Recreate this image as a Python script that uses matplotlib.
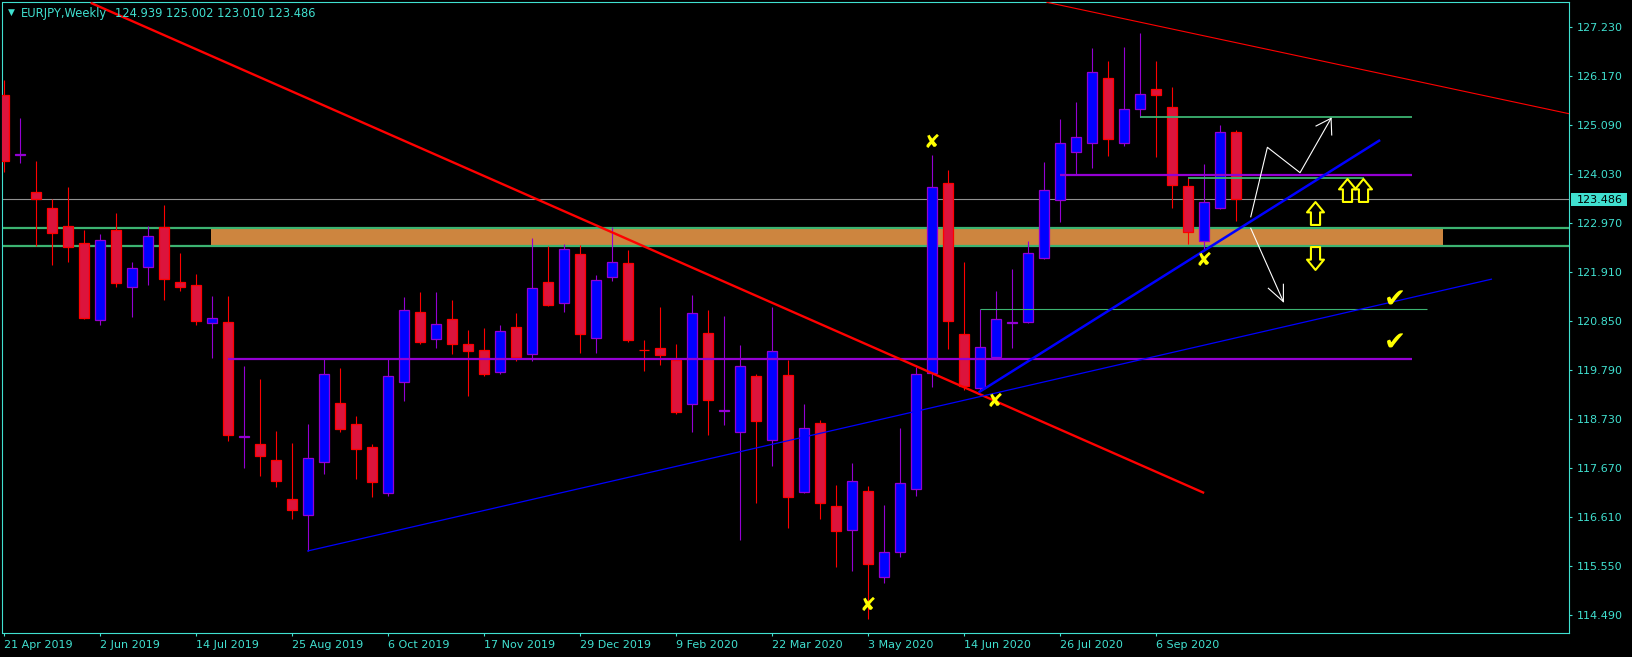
import matplotlib
matplotlib.use('Agg')
import matplotlib.pyplot as plt
from matplotlib.patches import Rectangle
from matplotlib.path import Path

W, H = 1633, 657
DPI = 100

TURQ = '#40E0D0'
RED = '#FF0000'
CRIMSON = '#DC143C'
BLUE = '#0000FF'
VIOLET = '#9400D3'
SEAGREEN = '#3CB371'
YELLOW = '#FFFF00'

# weekly EURJPY candles, index 0 = week of 21 Apr 2019
opens = [125.750, 124.452, 123.642, 123.302, 122.912, 122.537, 120.869, 122.825, 121.597, 122.030,
         122.890, 121.698, 121.633, 120.817, 120.825, 118.340, 118.182, 117.835, 116.990, 116.643,
         117.805, 119.077, 118.622, 118.123, 117.133, 119.525, 121.042, 120.457, 120.890, 120.349,
         120.220, 119.742, 120.717, 120.132, 121.692, 121.250, 122.299, 120.478, 121.800, 122.104,
         120.225, 120.262, 120.015, 119.048, 120.587, 118.905, 118.442, 119.662, 118.268, 119.677,
         117.142, 118.637, 116.845, 116.325, 117.170, 115.300, 115.842, 117.213, 119.733, 123.837,
         120.565, 119.395, 120.080, 120.812, 120.825, 122.212, 123.475, 124.509, 124.717, 126.112,
         124.704, 125.441, 125.874, 125.484, 123.779, 122.593, 123.295, 124.939]
highs = [126.076, 125.259, 124.320, 123.490, 123.764, 122.825, 122.739, 123.194, 122.138, 122.918,
         123.367, 122.333, 121.872, 121.395, 121.395, 119.878, 119.597, 118.470, 118.210, 118.622,
         120.024, 119.835, 118.795, 118.188, 120.024, 121.373, 121.482, 121.482, 121.308, 120.658,
         120.702, 120.760, 121.027, 122.652, 122.479, 122.520, 122.494, 121.850, 122.884, 122.392,
         120.442, 121.157, 120.355, 121.410, 121.092, 120.962, 120.333, 119.705, 121.150, 120.008,
         119.055, 118.708, 117.300, 117.783, 117.285, 116.866, 118.528, 119.863, 124.450, 124.125,
         122.125, 121.107, 121.504, 121.980, 122.587, 124.305, 125.230, 125.605, 126.769, 126.487,
         126.797, 127.100, 126.487, 125.917, 123.946, 124.255, 125.094, 125.002]
lows = [124.088, 124.284, 122.485, 122.067, 122.138, 120.900, 120.767, 121.597, 120.947, 121.633,
        121.308, 121.510, 120.767, 120.058, 118.260, 117.675, 117.495, 117.263, 116.570, 115.870,
        117.538, 118.448, 117.430, 117.046, 117.061, 119.126, 120.361, 120.275, 120.145, 119.235,
        119.668, 119.711, 119.987, 119.987, 121.185, 121.055, 120.160, 120.160, 121.720, 120.405,
        119.770, 119.900, 118.845, 118.455, 118.390, 118.606, 116.115, 116.903, 117.718, 116.361,
        117.120, 116.557, 115.529, 115.443, 114.396, 115.170, 115.733, 117.068, 119.430, 120.253,
        119.365, 119.337, 120.050, 120.275, 120.804, 122.200, 123.005, 124.039, 124.175, 124.429,
        124.650, 125.267, 124.414, 123.308, 122.515, 122.392, 123.274, 123.010]
closes = [124.327, 124.462, 123.503, 122.767, 122.463, 120.925, 122.602, 121.683, 121.995, 122.695,
          121.770, 121.597, 120.860, 120.912, 118.377, 118.350, 117.935, 117.393, 116.765, 117.878,
          119.698, 118.513, 118.086, 117.371, 119.655, 121.085, 120.405, 120.782, 120.361, 120.210,
          119.711, 120.630, 120.080, 121.562, 121.207, 122.407, 120.578, 121.735, 122.125, 120.448,
          120.215, 120.123, 118.888, 121.020, 119.148, 118.915, 119.872, 118.693, 120.197, 117.046,
          118.528, 116.903, 116.296, 117.386, 115.581, 115.855, 117.337, 119.698, 123.750, 120.860,
          119.451, 120.283, 120.890, 120.822, 122.320, 123.685, 124.704, 124.834, 126.242, 124.804,
          125.441, 125.772, 125.757, 123.807, 122.788, 123.425, 124.942, 123.486]

date_ticks = [0, 6, 12, 18, 24, 30, 36, 42, 48, 54, 60, 66, 72]
date_labels = ['21 Apr 2019', '2 Jun 2019', '14 Jul 2019', '25 Aug 2019', '6 Oct 2019',
               '17 Nov 2019', '29 Dec 2019', '9 Feb 2020', '22 Mar 2020', '3 May 2020',
               '14 Jun 2020', '26 Jul 2020', '6 Sep 2020']
price_ticks = [114.490, 115.550, 116.610, 117.670, 118.730, 119.790, 120.850,
               121.910, 122.970, 124.030, 125.090, 126.170, 127.230]

# drawn objects
zone_low, zone_high = 122.485, 122.869
zone_span = (12.96, 89.94)
bid = closes[-1]
purple_levels = [120.030, 124.024]
purple_spans = [(14.0, 88.0), (66.0, 88.0)]
green_levels = [125.280, 123.959, 121.107]
green_spans = [(71.0, 88.0), (74.0, 85.0), (61.0, 88.94)]

red_thick = ([5.5, 74.96], [127.738, 117.137])
red_thin = ([65.2, 97.83], [127.759, 125.345])
blue_thin = ([19.0, 92.98], [115.870, 121.759])
blue_thick = ([61.0, 85.96], [119.321, 124.760])

path_up_x = [77.94, 78.98, 81.02, 82.96]
path_up_y = [123.111, 124.617, 124.067, 125.245]
head_up_x = [82.02, 82.96, 83.00]
head_up_y = [125.079, 125.245, 124.884]
path_dn_x = [77.94, 79.98]
path_dn_y = [122.862, 121.272]
head_dn_x = [79.04, 79.98, 79.98]
head_dn_y = [121.562, 121.272, 121.649]

cross_x = [58, 54, 61.95, 75]
cross_y = [124.717, 114.678, 119.105, 122.160]
check_x = [86.96, 86.96]
check_y = [121.287, 120.362]
up_x = [81.96, 83.94, 84.96]
up_y = [123.187, 123.686, 123.686]
down_x = [81.96]
down_y = [122.212]

fig = plt.figure(figsize=(W / DPI, H / DPI), dpi=DPI, facecolor='black')
ax = fig.add_axes([2.5 / W, (H - 633.3) / H, (1569 - 2.5) / W, (633.3 - 2.3) / H], facecolor='black')
ax.set_xlim(-0.075, 97.83)
ax.set_ylim(114.086, 127.759)

# background objects
ax.add_patch(Rectangle((zone_span[0], zone_low), zone_span[1] - zone_span[0], zone_high - zone_low,
                       fc='#CD853F', ec='none', zorder=1))
for lv in (zone_low, zone_high):
    ax.axhline(lv, color=SEAGREEN, lw=1.6, zorder=1.5)
ax.axhline(bid, color='#909090', lw=0.8, zorder=1.5)

# candles
BODY = 0.64
for i, (o, h, l, c) in enumerate(zip(opens, highs, lows, closes)):
    bull = c >= o
    edge = VIOLET if bull else RED
    face = BLUE if bull else CRIMSON
    ax.vlines(i, l, h, color=edge, lw=0.8, zorder=2)
    ax.add_patch(Rectangle((i - BODY / 2, min(o, c)), BODY, max(abs(c - o), 0.012),
                           fc=face, ec=edge, lw=0.9, zorder=3))

# horizontal levels
for lv, (a, b) in zip(purple_levels, purple_spans):
    ax.hlines(lv, a, b, color=VIOLET, lw=1.6, zorder=4)
for k, (lv, (a, b)) in enumerate(zip(green_levels, green_spans)):
    ax.hlines(lv, a, b, color=SEAGREEN, lw=1.3 if k < 2 else 0.8, zorder=4)

# trend lines
ax.plot(*red_thick, color=RED, lw=1.7, zorder=4)
ax.plot(*red_thin, color=RED, lw=0.8, zorder=4)
ax.plot(*blue_thin, color=BLUE, lw=0.9, zorder=4)
ax.plot(*blue_thick, color=BLUE, lw=1.8, zorder=4)

# hand drawn scenario arrows
for px, py in ((path_up_x, path_up_y), (head_up_x, head_up_y),
               (path_dn_x, path_dn_y), (head_dn_x, head_dn_y)):
    ax.plot(px, py, color='white', lw=0.8, zorder=5)

# hollow block arrows
up_arrow = Path([(0, 0.5), (0.37, 0.05), (0.2, 0.05), (0.2, -0.5), (-0.2, -0.5),
                 (-0.2, 0.05), (-0.37, 0.05), (0, 0.5)], closed=True)
down_arrow = Path([(x, -y) for x, y in up_arrow.vertices], closed=True)
ax.plot(up_x, up_y, ls='none', marker=up_arrow, ms=16.5, mfc='black', mec=YELLOW, mew=1.5, zorder=6)
ax.plot(down_x, down_y, ls='none', marker=down_arrow, ms=16.5, mfc='black', mec=YELLOW, mew=1.5, zorder=6)

for x, y in zip(cross_x, cross_y):
    ax.text(x, y, '\u2718', color=YELLOW, fontsize=14, ha='center', va='center', zorder=6)
for x, y in zip(check_x, check_y):
    ax.text(x, y, '\u2714', color=YELLOW, fontsize=19, ha='center', va='center', zorder=6)

# axes styling
for sp in ax.spines.values():
    sp.set_color(TURQ)
    sp.set_linewidth(0.8)
ax.yaxis.tick_right()
ax.set_yticks(price_ticks)
ax.set_yticklabels([f'{v:.3f}' for v in price_ticks])
ax.set_xticks(date_ticks)
ax.set_xticklabels(date_labels)
for lab in ax.get_xticklabels():
    lab.set_ha('left')
ax.tick_params(axis='both', colors=TURQ, labelcolor=TURQ, length=2.5, width=0.8, labelsize=8)
ax.tick_params(axis='x', pad=2.5)
ax.tick_params(axis='y', pad=3)

# current price box on the scale
fig.canvas.draw()
yb = ax.transData.transform((0, bid))[1]
fig.add_artist(Rectangle((1571, yb - 6.5), 56, 13, transform=None, fc=TURQ, ec='none'))
fig.text(1576.7 / W, yb / H, f'{bid:.3f}', color='black', fontsize=8, ha='left', va='center_baseline')

# title
fig.text(11 / W, 1 - 12.5 / H, '\u25BC', color=TURQ, fontsize=6.5, ha='center', va='center')
fig.text(21 / W, 1 - 17.3 / H, 'EURJPY,Weekly', color=TURQ, fontsize=8.3, ha='left', va='baseline')
fig.text(115 / W, 1 - 17.3 / H,
         f'{opens[-1]:.3f} {highs[-1]:.3f} {lows[-1]:.3f} {closes[-1]:.3f}',
         color=TURQ, fontsize=8.3, ha='left', va='baseline')

fig.savefig('out.png', dpi=DPI, facecolor='black')
